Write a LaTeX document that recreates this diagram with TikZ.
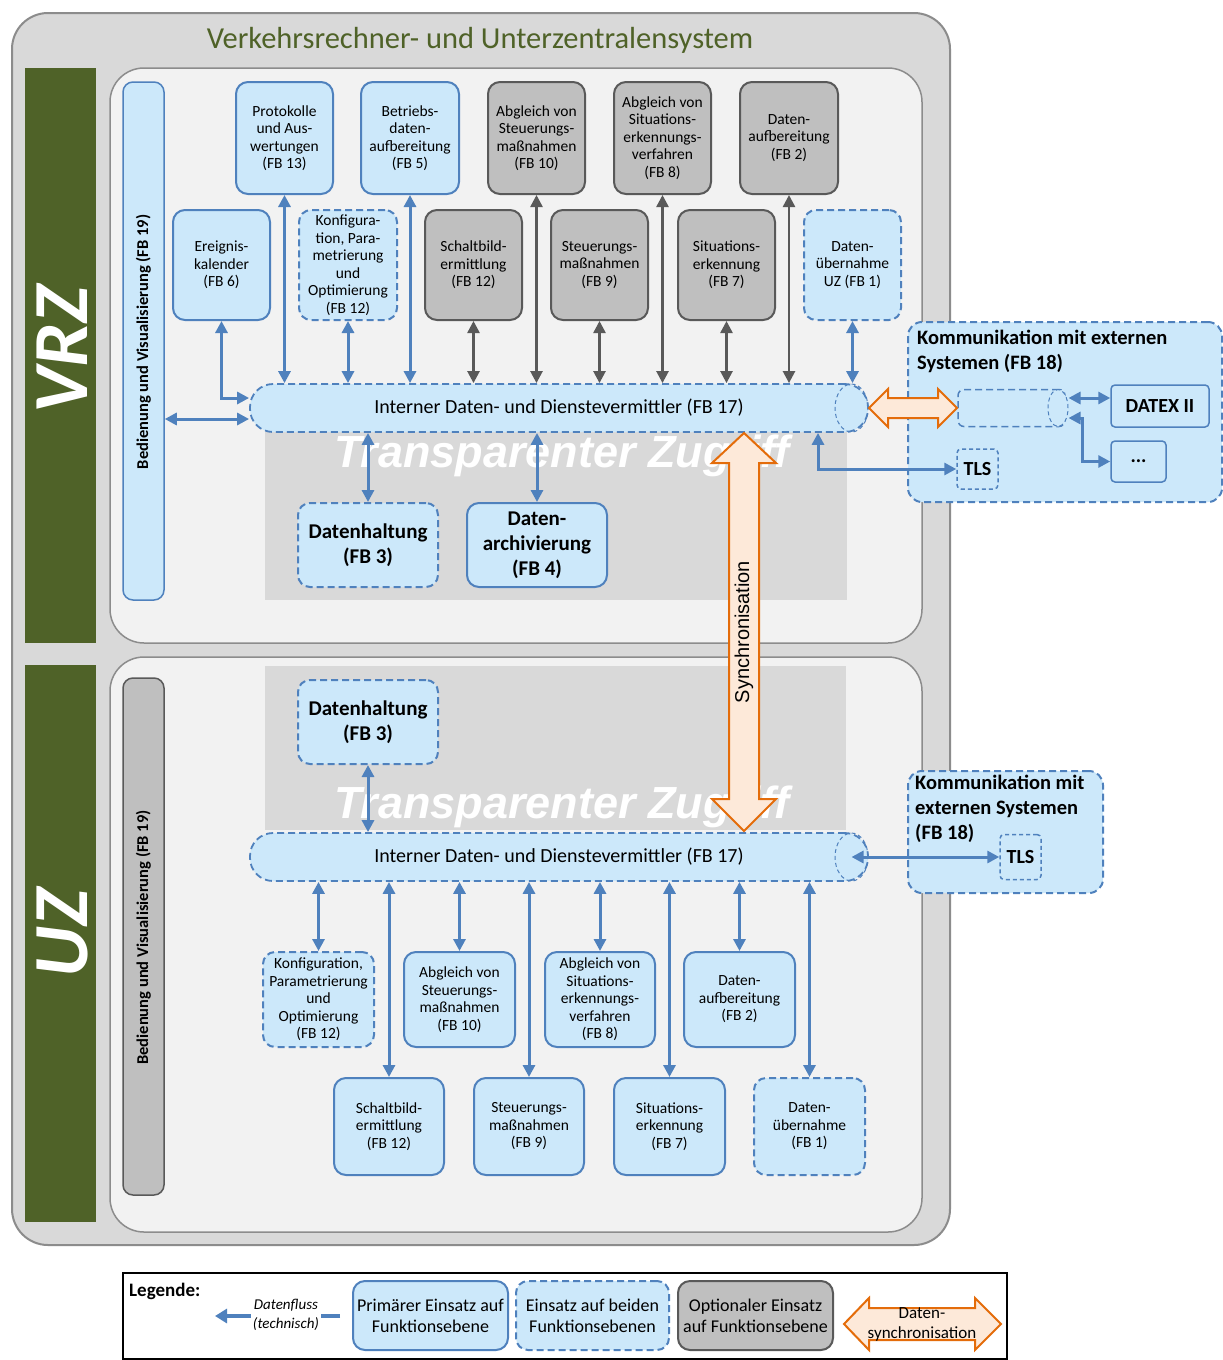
\documentclass[tikz,border=0pt]{standalone}
\usepackage{fontspec}
\setmainfont{Carlito}
\newfontfamily\arialfont{Liberation Sans}
\usetikzlibrary{arrows.meta,calc,shapes.geometric}

\definecolor{lblue}{RGB}{204,232,250}
\definecolor{bblue}{RGB}{79,129,189}
\definecolor{gfill}{RGB}{191,191,191}
\definecolor{gline}{RGB}{89,89,89}
\definecolor{panel}{RGB}{217,217,217}
\definecolor{innerbg}{RGB}{242,242,242}
\definecolor{frame}{RGB}{140,140,140}
\definecolor{olive}{RGB}{79,98,40}
\definecolor{syncline}{RGB}{228,108,10}
\definecolor{syncfill}{RGB}{253,233,217}

\begin{document}
\begin{tikzpicture}[x=1pt,y=-1pt,
  fb/.style={rounded corners=12pt, line width=2pt, align=center, inner sep=0pt,
    font=\fontsize{15.5}{17.5}\selectfont},
  prim/.style={fb, draw=bblue, fill=lblue},
  both/.style={fb, draw=bblue, fill=lblue, dash pattern=on 7pt off 4pt},
  opt/.style={fb, draw=gline, fill=gfill},
  bigtext/.style={font=\fontsize{21}{25}\selectfont\bfseries},
  barrow/.style={draw=bblue, line width=3pt,
    arrows={Triangle[width=12pt,length=12pt]-Triangle[width=12pt,length=12pt]}},
  garrow/.style={draw=gline, line width=2.5pt,
    arrows={Triangle[width=12pt,length=12pt]-Triangle[width=12pt,length=12pt]}},
  busbox/.style={rounded corners=23pt, draw=bblue, fill=lblue, line width=1.8pt,
    dash pattern=on 7pt off 4pt, font=\fontsize{20}{22}\selectfont,
    minimum width=618pt, minimum height=48pt, inner sep=0pt},
  endcap/.style={ellipse, draw=bblue, line width=1pt, dash pattern=on 4pt off 3pt,
    inner sep=0pt, minimum width=33pt, minimum height=48pt},
  sidebar/.style={rounded corners=10pt, line width=1.5pt, minimum width=41pt, inner sep=0pt},
  sidetext/.style={rotate=90, font=\fontsize{16.5}{18}\selectfont\bfseries},
  zugriff/.style={text=white, font=\arialfont\fontsize{45}{50}\selectfont\bfseries\itshape},
  levellabel/.style={rotate=90, text=white, font=\fontsize{78}{80}\selectfont\bfseries\itshape},
  extbox/.style={rounded corners=14pt, draw=bblue, fill=lblue, line width=2pt,
    dash pattern=on 7pt off 4pt, inner sep=0pt},
  exttext/.style={anchor=north west, align=left, inner sep=0pt,
    font=\fontsize{20.5}{25}\selectfont\bfseries},
  smallbox/.style={rounded corners=4pt, draw=bblue, fill=lblue, line width=1.5pt, inner sep=0pt,
    font=\fontsize{20}{22}\selectfont\bfseries},
  sync/.style={draw=syncline, fill=syncfill, line width=2pt, line join=miter},
  legbox/.style={fb, minimum width=155pt, minimum height=69pt, font=\fontsize{18}{21}\selectfont}
]
\useasboundingbox (0,0) rectangle (1223,1360);
\fill[white] (0,0) rectangle (1223,1360);

% ---------- frame of the whole system ----------
\draw[fill=panel, draw=frame, line width=2pt, rounded corners=36pt] (12,13) rectangle (950,1245);
\node[font=\fontsize{30.5}{34}\selectfont, text=olive] (title) at (480,40)
  {Verkehrsrechner- und Unterzentralensystem};

% level strips
\fill[olive] (25,68) rectangle (96,643);
\fill[olive] (25,665) rectangle (96,1222);
\node[levellabel] (vrzlab) at (62,350) {VRZ};
\node[levellabel] (uzlab) at (62,933) {UZ};

% level panels
\draw[fill=innerbg, draw=frame, line width=1.5pt, rounded corners=34pt] (110,68) rectangle (922,643);
\draw[fill=innerbg, draw=frame, line width=1.5pt, rounded corners=34pt] (110,657) rectangle (922,1232);

% transparent access zones
\fill[panel] (265,432) rectangle (847,600);
\fill[panel] (265,666) rectangle (846,830);
\node[zugriff] (zv) at (562,456) {Transparenter Zugriff};
\node[zugriff] (zu) at (562,807) {Transparenter Zugriff};

% ================= VRZ =================
\node[sidebar, draw=bblue, fill=lblue, minimum height=518pt] (sbv) at (143.5,341) {};
\node[sidetext] (sbvt) at (143.5,342) {Bedienung und Visualisierung (FB 19)};

% upper row
\node[prim, minimum width=97pt, minimum height=112pt] (p13) at (284.5,138)
  {Protokolle\\und Aus-\\wertungen\\(FB 13)};
\node[prim, minimum width=98pt, minimum height=112pt] (p5) at (410,138)
  {Betriebs-\\daten-\\aufbereitung\\(FB 5)};
\node[opt, minimum width=97pt, minimum height=112pt] (o10) at (536.5,138)
  {Abgleich von\\Steuerungs-\\maßnahmen\\(FB 10)};
\node[opt, minimum width=97pt, minimum height=112pt] (o8) at (662.5,138)
  {Abgleich von\\Situations-\\erkennungs-\\verfahren\\(FB 8)};
\node[opt, minimum width=98pt, minimum height=112pt] (o2) at (789,138)
  {Daten-\\aufbereitung\\(FB 2)};

% lower row
\node[prim, minimum width=97pt, minimum height=110pt] (p6) at (221.5,265)
  {Ereignis-\\kalender\\(FB 6)};
\node[both, minimum width=98pt, minimum height=110pt] (b12) at (348,265)
  {Konfigura-\\tion, Para-\\metrierung\\und\\Optimierung\\(FB 12)};
\node[opt, minimum width=97pt, minimum height=110pt] (o12) at (473.5,265)
  {Schaltbild-\\ermittlung\\(FB 12)};
\node[opt, minimum width=97pt, minimum height=110pt] (o9) at (599.5,265)
  {Steuerungs-\\maßnahmen\\(FB 9)};
\node[opt, minimum width=97pt, minimum height=110pt] (o7) at (726.5,265)
  {Situations-\\erkennung\\(FB 7)};
\node[both, minimum width=97pt, minimum height=110pt] (b1) at (852.5,265)
  {Daten-\\übernahme\\UZ (FB 1)};

% data and service broker
\node[busbox] (busv) at (559,408) {Interner Daten- und Dienstevermittler (FB 17)};
\node[endcap] (capv) at (851.5,408) {};

% storage
\node[both, bigtext, minimum width=140pt, minimum height=84pt] (dhv) at (368,545)
  {Datenhaltung\\(FB 3)};
\node[prim, bigtext, minimum width=140pt, minimum height=84pt] (dav) at (537,545)
  {Daten-\\archivierung\\(FB 4)};

% connectors VRZ
\coordinate (va) at ($(busv.west)+(0,-10)$);
\coordinate (vb) at ($(busv.west)+(0,11)$);
\draw[barrow] (p6.south) |- (va);
\draw[barrow] (sbv.east |- vb) -- (vb);
\draw[barrow] (p13.south) -- (p13.south |- busv.north);
\draw[barrow] (b12.south) -- (b12.south |- busv.north);
\draw[barrow] (p5.south) -- (p5.south |- busv.north);
\draw[garrow] (o12.south) -- (o12.south |- busv.north);
\draw[garrow] (o10.south) -- (o10.south |- busv.north);
\draw[garrow] (o9.south) -- (o9.south |- busv.north);
\draw[garrow] (o8.south) -- (o8.south |- busv.north);
\draw[garrow] (o7.south) -- (o7.south |- busv.north);
\draw[garrow] (o2.south) -- (o2.south |- busv.north);
\draw[barrow] (b1.south) -- (b1.south |- busv.north);
\draw[barrow] (dhv.north |- busv.south) -- (dhv.north);
\draw[barrow] (dav.north |- busv.south) -- (dav.north);

% external communication VRZ
\node[extbox, minimum width=314pt, minimum height=180pt] (kv) at (1065,412) {};
\node[exttext] (kvt) at (917,330) {Kommunikation mit externen\\Systemen (FB 18)};
\node[fb, draw=bblue, fill=lblue, dash pattern=on 7pt off 4pt, line width=1.5pt,
  rounded corners=6pt, minimum width=107pt, minimum height=37pt] (gw) at (1011.5,408) {};
\node[ellipse, draw=bblue, line width=1pt, dash pattern=on 4pt off 3pt, inner sep=0pt,
  minimum width=20pt, minimum height=37pt, fill=lblue] (gwcap) at (1058,408) {};
\node[smallbox, minimum width=98pt, minimum height=42pt] (datex) at (1160,406) {DATEX II};
\node[smallbox, minimum width=55pt, minimum height=41pt] (etc) at (1138.5,461.5) {...};
\node[smallbox, dash pattern=on 4pt off 3pt, minimum width=41pt, minimum height=40pt]
  (tlsv) at (977.5,469) {TLS};
\coordinate (tx) at (818,0);
\coordinate (da) at ($(datex.west)+(0,-8)$);
\draw[barrow] (gwcap.east |- da) -- (da);
\draw[barrow] ($(gwcap.east)+(0,10)$) -- ++(14,0) |- (etc.west);
\draw[barrow] (busv.south -| tx) |- (tlsv.west);

% ================= UZ =================
\node[sidebar, draw=gline, fill=gfill, minimum height=517pt] (sbu) at (143.5,936.5) {};
\node[sidetext] (sbut) at (143.5,937.5) {Bedienung und Visualisierung (FB 19)};

\node[both, bigtext, minimum width=140pt, minimum height=84pt] (dhu) at (368,722)
  {Datenhaltung\\(FB 3)};
\node[busbox] (busu) at (559,857) {Interner Daten- und Dienstevermittler (FB 17)};
\node[endcap] (capu) at (851.5,857) {};
\draw[barrow] (dhu.south) -- (dhu.south |- busu.north);

\node[extbox, minimum width=195pt, minimum height=122pt] (ku) at (1005.5,832) {};
\node[exttext] (kut) at (915,775) {Kommunikation mit\\externen Systemen\\(FB 18)};
\node[smallbox, dash pattern=on 4pt off 3pt, minimum width=41pt, minimum height=45pt]
  (tlsu) at (1020.5,857) {TLS};
\draw[barrow] (capu.center) -- (tlsu.west);

% first row below the broker
\node[both, minimum width=111pt, minimum height=95pt] (u12k) at (318.5,999.5)
  {Konfiguration,\\Parametrierung\\und\\Optimierung\\(FB 12)};
\node[prim, minimum width=111pt, minimum height=95pt] (u10) at (459.5,999.5)
  {Abgleich von\\Steuerungs-\\maßnahmen\\(FB 10)};
\node[prim, minimum width=110pt, minimum height=95pt] (u8) at (600,999.5)
  {Abgleich von\\Situations-\\erkennungs-\\verfahren\\(FB 8)};
\node[prim, minimum width=111pt, minimum height=95pt] (u2) at (739.5,999.5)
  {Daten-\\aufbereitung\\(FB 2)};
% second row
\node[prim, minimum width=110pt, minimum height=97pt] (u12s) at (389,1126.5)
  {Schaltbild-\\ermittlung\\(FB 12)};
\node[prim, minimum width=110pt, minimum height=97pt] (u9) at (529,1126.5)
  {Steuerungs-\\maßnahmen\\(FB 9)};
\node[prim, minimum width=111pt, minimum height=97pt] (u7) at (669.5,1126.5)
  {Situations-\\erkennung\\(FB 7)};
\node[both, minimum width=111pt, minimum height=97pt] (u1) at (809.5,1126.5)
  {Daten-\\übernahme\\(FB 1)};

\foreach \n in {u12k,u10,u8,u2,u12s,u9,u7,u1}
  \draw[barrow] (\n.north |- busu.south) -- (\n.north);

% ---------- synchronisation arrows ----------
\draw[sync] (744,433) -- (776,463) -- (759,463) -- (759,799) -- (776,799) -- (744,831)
  -- (712,799) -- (729,799) -- (729,463) -- (712,463) -- cycle;
\node[rotate=90, font=\arialfont\fontsize{20}{22}\selectfont] (synct) at (744,632) {Synchronisation};
\draw[sync] (869,408) -- (888,389) -- (888,398) -- (938,398) -- (938,389) -- (957,408)
  -- (938,427) -- (938,418) -- (888,418) -- (888,427) -- cycle;

% ---------- legend ----------
\draw[line width=2pt] (123,1273) rectangle (1007,1359);
\node[anchor=north west, inner sep=0pt, font=\fontsize{19}{21}\selectfont\bfseries] (leg) at (129,1283) {Legende:};
\coordinate (lfa) at (340,1316);
\coordinate (lfb) at (215,1316);
\draw[draw=bblue, line width=4pt, arrows={-Triangle[width=14pt,length=12pt]}] (lfa) -- (lfb);
\node[fill=white, inner sep=2pt, align=center, font=\fontsize{15}{19}\selectfont\itshape] (lft) at (286,1315)
  {Datenfluss\\(technisch)};
\node[legbox, draw=bblue, fill=lblue] (lp) at (430.5,1315.5) {Primärer Einsatz auf\\Funktionsebene};
\node[legbox, draw=bblue, fill=lblue, dash pattern=on 7pt off 4pt, minimum width=153pt] (lb) at (592.5,1315.5)
  {Einsatz auf beiden\\Funktionsebenen};
\node[legbox, draw=gline, fill=gfill] (lo) at (755.5,1315.5) {Optionaler Einsatz\\auf Funktionsebene};
\draw[sync] (844,1324) -- (869,1298) -- (869,1308) -- (975,1308) -- (975,1298) -- (1001,1324)
  -- (975,1350) -- (975,1340) -- (869,1340) -- (869,1350) -- cycle;
\node[align=center, font=\fontsize{17}{20}\selectfont] (lst) at (922,1324) {Daten-\\synchronisation};
\end{tikzpicture}
\end{document}
